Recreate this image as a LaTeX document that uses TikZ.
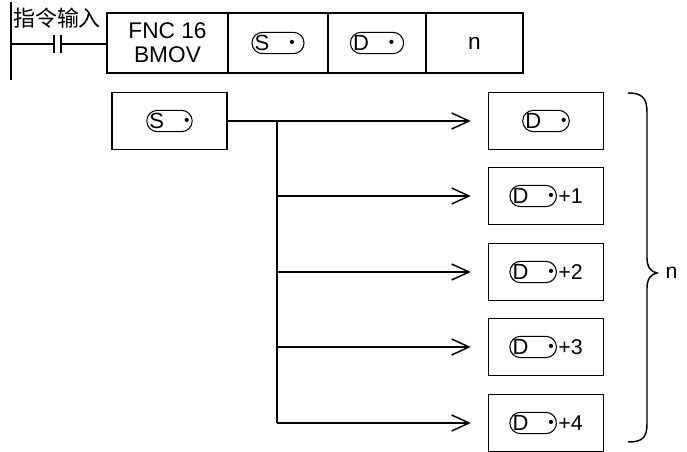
\documentclass[tikz,border=0pt]{standalone}
\usepackage{fontspec}
\setmainfont{Liberation Sans}
\newfontfamily\cjk{Noto Sans CJK SC}
\usetikzlibrary{arrows.meta, positioning}

% operand mark: letter in a pill with a dot
\newcommand{\opnd}[1]{\tikz[baseline=(p.base)]\node[draw, line width=0.8pt, rounded corners=8pt, minimum width=0pt, minimum height=16pt, inner xsep=2pt, inner ysep=0pt, font=\fontsize{16.5}{17}\selectfont] (p) {#1\hspace{15pt}\raisebox{0.25ex}{\scalebox{0.7}{\textbullet}}\hspace{5pt}};}

\begin{document}
\begin{tikzpicture}[x=0.75pt, y=-0.75pt,
  wire/.style={line width=1.1pt},
  cell/.style={draw, line width=1.1pt, minimum height=45pt, inner sep=0pt, align=center, font=\fontsize{17}{18}\selectfont},
  regbox/.style={draw, line width=1.1pt, minimum width=86.25pt, minimum height=42.75pt, inner sep=0pt, font=\fontsize{16}{17}\selectfont},
  arr/.style={wire, -{Straight Barb[length=13pt, width=12pt, line width=1.1pt]}, shorten >=12.75pt}
]
  \useasboundingbox (0,0) rectangle (687,452);

  % ladder rung
  \coordinate (railtop) at (11,2);
  \coordinate (railbot) at (11,80);
  \coordinate (rung) at (11,44);
  \coordinate (ca) at (54,44);
  \coordinate (cb) at (61,44);
  \draw[wire] (railtop) -- (railbot);
  \draw[wire] (rung) -- (ca);
  \draw[wire] ([yshift=-7]ca) -- ([yshift=7]ca);
  \draw[wire] ([yshift=-7]cb) -- ([yshift=7]cb);
  \node[font=\cjk\fontsize{16.5}{17}\selectfont] (input) at (57,18) {指令输入};

  % instruction
  \node[cell, minimum width=90.75pt] (fnc) at (167.5,43) {FNC 16\\BMOV};
  \node[cell, minimum width=75pt] (src) at (278,43) {\opnd{S}};
  \node[cell, minimum width=73.5pt] (dst) at (377,43) {\opnd{D}};
  \node[cell, minimum width=72.75pt] (num) at (474.5,43) {n};
  \draw[wire] (cb) -- (fnc.west |- cb);

  % block move
  \node[regbox] (s) at (169.5,121) {\opnd{S}};
  \foreach \i/\yy/\lbl in {0/121/, 1/196/+1, 2/272/+2, 3/347/+3, 4/423/+4} {
    \node[regbox] (d\i) at (546,\yy) {\opnd{D}\hspace{1pt}\lbl};
    \coordinate (bus\i) at (277,\yy);
  }
  \draw[arr] (s.east) -- (d0.west);
  \draw[wire] (bus0) -- (bus4);
  \foreach \i in {1,...,4}
    \draw[arr] (bus\i) -- (d\i.west);

  % brace
  \draw[wire] (628,93) .. controls (642,93) and (647,98) .. (647,112) -- (647,258)
    .. controls (647,267) and (651,272) .. (657,273)
    .. controls (651,274) and (647,279) .. (647,288) -- (647,424)
    .. controls (647,438) and (642,442) .. (628,442);
  \node[font=\fontsize{16}{17}\selectfont, anchor=west] (nlab) at (661,273) {n};
\end{tikzpicture}
\end{document}
